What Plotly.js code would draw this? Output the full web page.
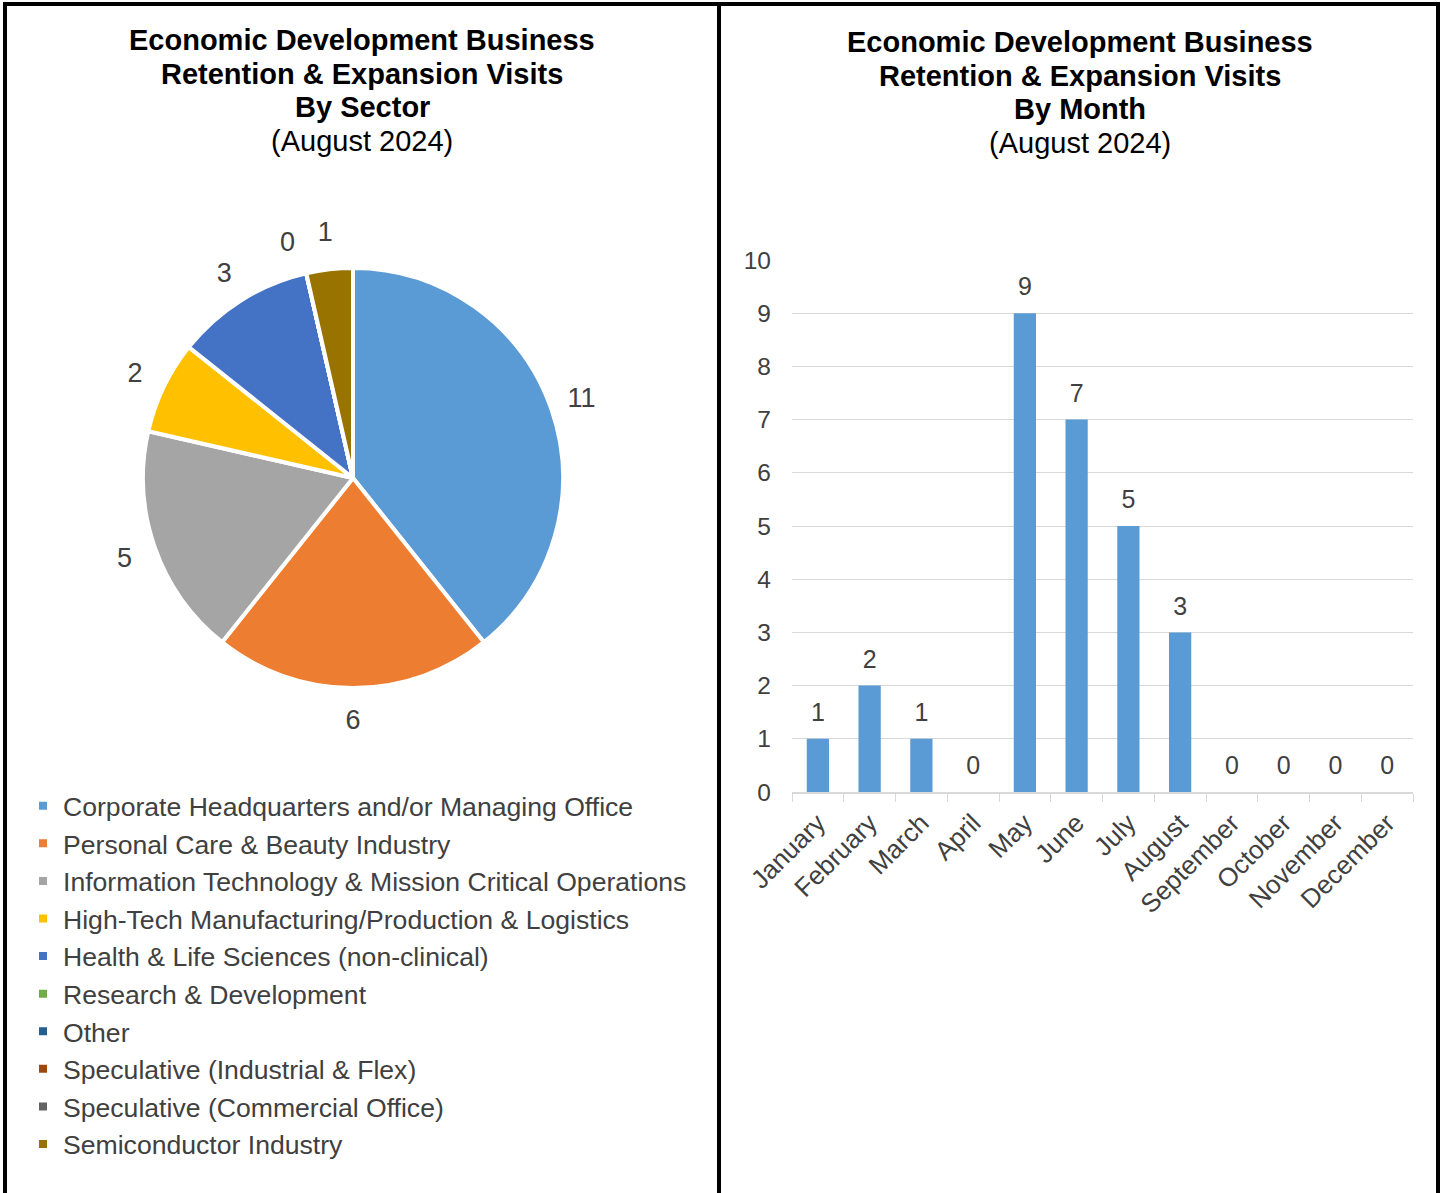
<!DOCTYPE html>
<html>
<head>
<meta charset="utf-8">
<script src="https://cdn.plot.ly/plotly-3.0.1.min.js"></script>
<style>
  html, body { margin: 0; padding: 0; background: #ffffff; }
  #chart { width: 1447px; height: 1193px; }
</style>
</head>
<body>
<div id="chart"></div>
<script>
// ---- Data ----
var sectorLabels = [
  "Corporate Headquarters and/or Managing Office",
  "Personal Care & Beauty Industry",
  "Information Technology & Mission Critical Operations",
  "High-Tech Manufacturing/Production & Logistics",
  "Health & Life Sciences (non-clinical)",
  "Research & Development",
  "Other",
  "Speculative (Industrial & Flex)",
  "Speculative (Commercial Office)",
  "Semiconductor Industry"
];
var sectorValues = [11, 6, 5, 2, 3, 0, 0, 0, 0, 1];
var sectorColors = ["#5B9BD5", "#ED7D31", "#A5A5A5", "#FFC000", "#4472C4",
                    "#70AD47", "#255E91", "#9E480E", "#636363", "#997300"];

var months = ["January", "February", "March", "April", "May", "June",
              "July", "August", "September", "October", "November", "December"];
var monthValues = [1, 2, 1, 0, 9, 7, 5, 3, 0, 0, 0, 0];

var titleLinesLeft = ["<b>Economic Development Business</b>", "<b>Retention &amp; Expansion Visits</b>", "<b>By Sector</b>", "(August 2024)"];
var titleLinesRight = ["<b>Economic Development Business</b>", "<b>Retention &amp; Expansion Visits</b>", "<b>By Month</b>", "(August 2024)"];

// ---- Layout helpers ----
var W = 1447, H = 1193;
function px(x) { return x / W; }
function py(y) { return 1 - y / H; }

var FONT = "Arial, 'Liberation Sans', Helvetica, sans-serif";
var TXT = "#404040";

// pie geometry (pixels)
var CX = 353, CY = 478, R = 210, R_LBL = 275, R_ZERO = 227;
function pieDomain(r) { return { x: [px(CX - r), px(CX + r)], y: [py(CY + r), py(CY - r)] }; }
var transparent = sectorValues.map(function () { return "rgba(0,0,0,0)"; });

// Main pie: slices + legend
var pieTrace = {
  type: "pie",
  labels: sectorLabels,
  values: sectorValues,
  sort: false,
  direction: "clockwise",
  rotation: 0,
  marker: { colors: sectorColors, line: { color: "#ffffff", width: 4 } },
  textinfo: "none",
  domain: pieDomain(R),
  hoverinfo: "none",
  showlegend: true
};

// Transparent ring carrying the value labels of non-empty slices
var pieLabelRing = {
  type: "pie",
  labels: sectorLabels,
  values: sectorValues,
  sort: false,
  direction: "clockwise",
  rotation: 0,
  hole: 0.76,
  marker: { colors: transparent, line: { width: 0 } },
  textinfo: "value",
  textposition: sectorValues.map(function (v) { return v > 0 ? "inside" : "none"; }),
  insidetextorientation: "horizontal",
  insidetextfont: { size: 27, color: TXT, family: FONT },
  domain: pieDomain(R_LBL),
  hoverinfo: "none",
  showlegend: false
};

// Transparent pie carrying the (overlapping) zero labels, shown once
var pieZeroLabel = {
  type: "pie",
  labels: sectorLabels,
  values: sectorValues,
  sort: false,
  direction: "clockwise",
  rotation: 0,
  marker: { colors: transparent, line: { width: 0 } },
  textinfo: "value",
  textposition: sectorValues.map(function (v, i) {
    return (v === 0 && sectorValues[i + 1] !== 0) ? "outside" : "none";
  }),
  outsidetextfont: { size: 27, color: TXT, family: FONT },
  domain: pieDomain(R_ZERO),
  hoverinfo: "none",
  showlegend: false
};

var barTrace = {
  type: "bar",
  x: months,
  y: monthValues,
  xaxis: "x",
  yaxis: "y",
  marker: { color: "#5B9BD5" },
  showlegend: false,
  hoverinfo: "none"
};

// value labels above bars
var barLabels = {
  type: "scatter",
  mode: "markers+text",
  x: months,
  y: monthValues,
  xaxis: "x",
  yaxis: "y",
  text: monthValues.map(String),
  textposition: "top center",
  textfont: { size: 25, color: TXT, family: FONT },
  marker: { size: 17, opacity: 0, color: "#ffffff" },
  cliponaxis: false,
  showlegend: false,
  hoverinfo: "none"
};

var annotations = [];
var leftCenters = [40, 74, 107, 141];
var rightCenters = [42, 76, 109, 143];
titleLinesLeft.forEach(function (t, i) {
  annotations.push({ xref: "paper", yref: "paper", x: px(362), y: py(leftCenters[i]),
    xanchor: "center", yanchor: "middle", text: t, showarrow: false,
    font: { size: 29, color: "#000000", family: FONT } });
});
titleLinesRight.forEach(function (t, i) {
  annotations.push({ xref: "paper", yref: "paper", x: px(1080), y: py(rightCenters[i]),
    xanchor: "center", yanchor: "middle", text: t, showarrow: false,
    font: { size: 29, color: "#000000", family: FONT } });
});

var line = { color: "#000000", width: 4 };
var layout = {
  width: W, height: H,
  margin: { l: 0, r: 0, t: 0, b: 0 },
  paper_bgcolor: "#ffffff",
  plot_bgcolor: "#ffffff",
  font: { family: FONT, color: TXT },
  showlegend: true,
  legend: {
    x: px(23), y: py(782), xanchor: "left", yanchor: "top",
    font: { size: 26.6, color: TXT, family: FONT },
    bgcolor: "rgba(0,0,0,0)",
    traceorder: "normal"
  },
  xaxis: {
    domain: [px(792), px(1413)],
    anchor: "y",
    type: "category",
    range: [-0.5, months.length - 0.5],
    tickangle: -45,
    tickfont: { size: 26, color: TXT, family: FONT },
    ticklabelstandoff: 4,
    showline: true, linecolor: "#d9d9d9", linewidth: 1.5,
    ticks: "outside", tickson: "boundaries", ticklen: 8, tickcolor: "#d9d9d9", tickwidth: 1,
    showgrid: false, zeroline: false,
    automargin: false,
    fixedrange: true
  },
  yaxis: {
    domain: [py(792), py(260)],
    anchor: "x",
    range: [0, 10],
    dtick: 1,
    tickfont: { size: 24.5, color: TXT, family: FONT },
    showgrid: true, gridcolor: "#d9d9d9", gridwidth: 1,
    zeroline: false, showline: false,
    ticks: "", ticklabelstandoff: 20,
    automargin: false,
    fixedrange: true
  },
  bargap: 0.57,
  annotations: annotations,
  shapes: [
    { type: "line", xref: "paper", yref: "paper", x0: px(3), x1: px(1440), y0: py(4), y1: py(4), line: line },
    { type: "line", xref: "paper", yref: "paper", x0: px(5), x1: px(5), y0: py(2), y1: 0, line: line },
    { type: "line", xref: "paper", yref: "paper", x0: px(719), x1: px(719), y0: py(2), y1: 0, line: line },
    { type: "line", xref: "paper", yref: "paper", x0: px(1438), x1: px(1438), y0: py(2), y1: 0, line: line }
  ]
};

Plotly.newPlot("chart", [pieTrace, pieLabelRing, pieZeroLabel, barTrace, barLabels], layout, { displayModeBar: false, staticPlot: true });
</script>
</body>
</html>
